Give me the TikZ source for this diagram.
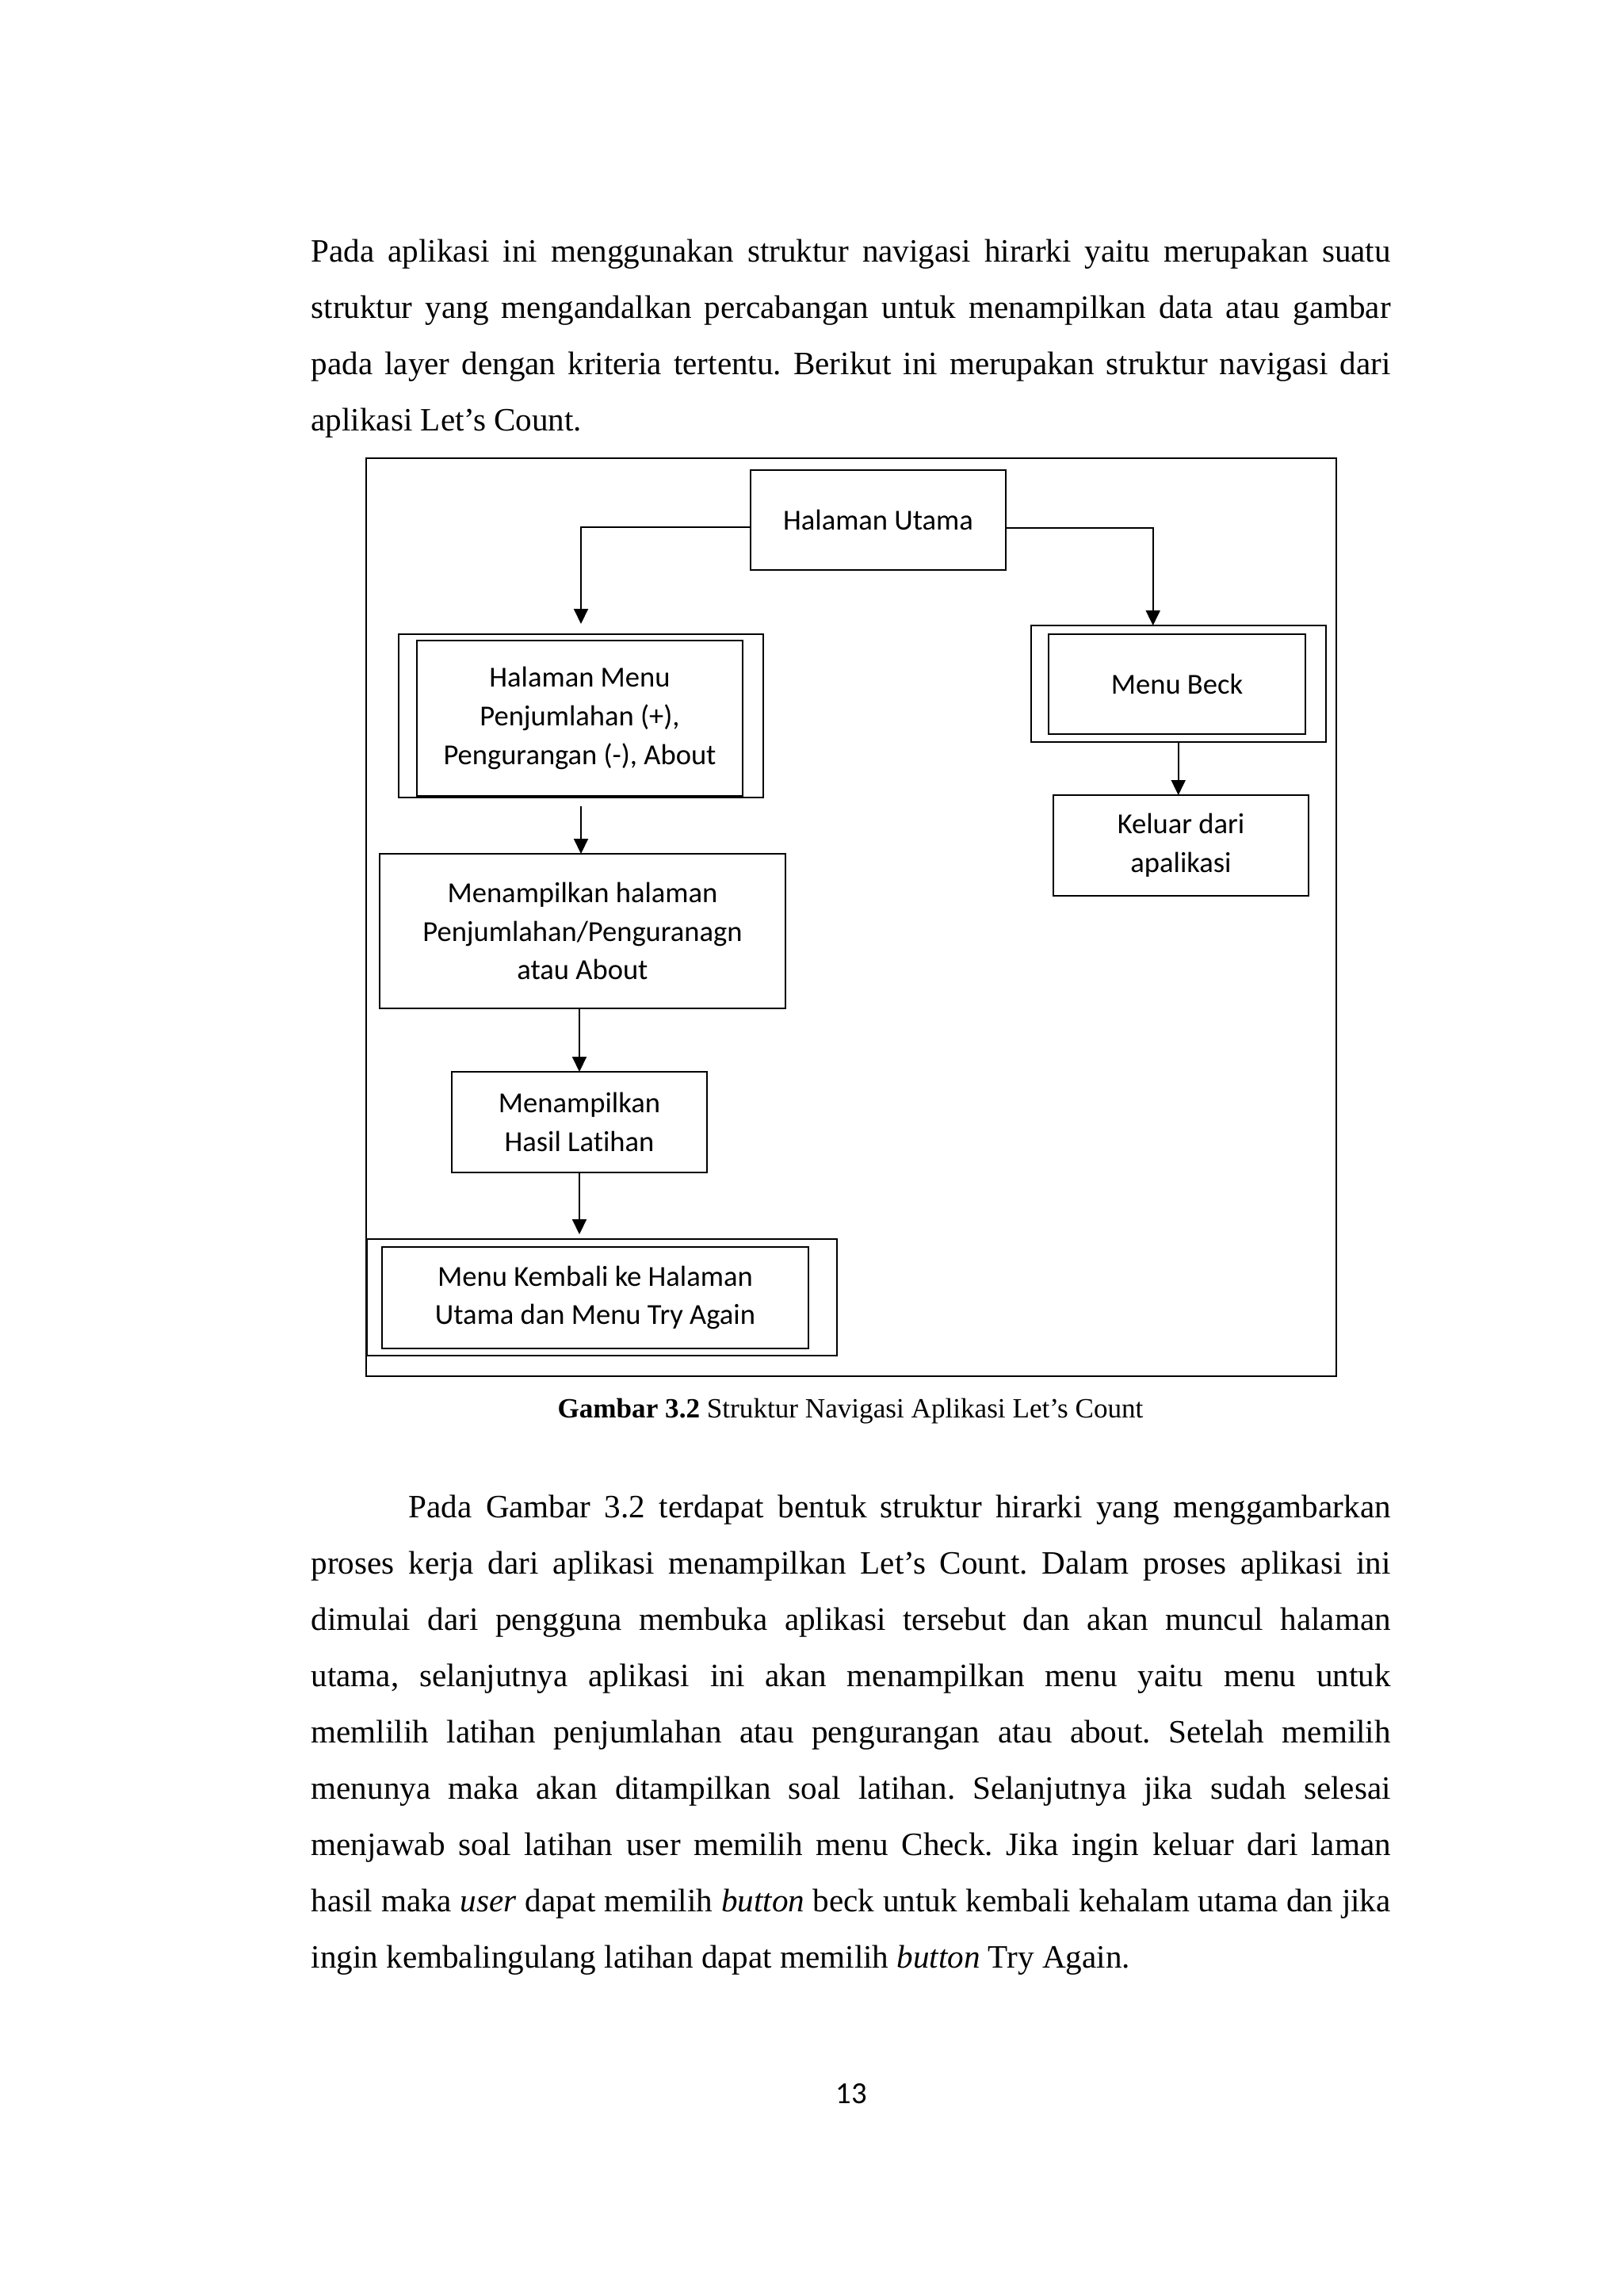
\documentclass[tikz,border=0pt]{standalone}
\usepackage{fontspec}
\setmainfont{Liberation Serif}
\newfontfamily\calibri[Ligatures=NoCommon]{Carlito}
\usetikzlibrary{arrows.meta}
\newcommand\diagfont{\calibri\fontsize{10.4}{13.9}\selectfont}
\newcommand\bodytxt{\fontsize{11.7}{14}\selectfont\frenchspacing}
\tikzset{
  box/.style={draw, line width=0.55pt, inner sep=0pt, outer sep=0pt, align=center, font=\diagfont},
  arr/.style={line width=0.55pt, -{Triangle[length=0.19cm,width=0.18cm]}},
  bodyline/.style={anchor=base west, inner sep=0pt, font=\bodytxt},
}
\begin{document}
\frenchspacing
\begin{tikzpicture}
\fill[white] (0,0) rectangle (20.48,-28.95);
\useasboundingbox (0,0) rectangle (20.48,-28.95);

% first paragraph
\node[bodyline] (p1a) at (3.92,-3.30) {\makebox[13.62cm][s]{Pada aplikasi ini menggunakan struktur navigasi hirarki yaitu merupakan suatu}};
\node[bodyline] (p1b) at (3.92,-4.01) {\makebox[13.62cm][s]{struktur yang mengandalkan percabangan untuk menampilkan data atau gambar}};
\node[bodyline] (p1c) at (3.92,-4.72) {\makebox[13.62cm][s]{pada layer dengan kriteria tertentu. Berikut ini merupakan struktur navigasi dari}};
\node[bodyline] (p1d) at (3.92,-5.43) {aplikasi Let’s Count.};

% diagram frame
\draw[line width=0.55pt] (4.62,-5.78) rectangle (16.86,-17.36);

\node[box, minimum width=3.225cm, minimum height=1.26cm] (utama) at (11.08,-6.56) {Halaman Utama};

\node[box, minimum width=4.60cm, minimum height=2.06cm] (hmOuter) at (7.33,-9.03) {};
\node[box, minimum width=4.11cm, minimum height=1.96cm] (hmInner) at (7.315,-9.06) {Halaman Menu\\Penjumlahan (+),\\Pengurangan (-), About};

\node[box, minimum width=3.72cm, minimum height=1.47cm] (beckOuter) at (14.867,-8.625) {};
\node[box, minimum width=3.24cm, minimum height=1.26cm] (beckInner) at (14.85,-8.63) {Menu Beck};

\node[box, minimum width=3.227cm, minimum height=1.27cm] (keluar) at (14.90,-10.665) {Keluar dari\\apalikasi};

\node[box, minimum width=5.12cm, minimum height=1.95cm] (tampil) at (7.35,-11.745) {Menampilkan halaman\\Penjumlahan/Penguranagn\\atau About};

\node[box, minimum width=3.228cm, minimum height=1.27cm] (hasil) at (7.31,-14.155) {Menampilkan\\Hasil Latihan};

\node[box, minimum width=5.93cm, minimum height=1.47cm] (kOuter) at (7.595,-16.365) {};
\node[box, minimum width=5.38cm, minimum height=1.277cm] (kInner) at (7.51,-16.37) {Menu Kembali ke Halaman\\Utama dan Menu Try Again};

% connectors
\draw[arr, shorten >=0.13cm] ([yshift=-0.09cm]utama.west) -| (hmOuter.north);
\draw[arr] ([yshift=-0.10cm]utama.east) -| ([xshift=-0.32cm]beckOuter.north);
\draw[arr] (beckOuter.south) -- (beckOuter.south |- keluar.north);
\draw[arr, shorten <=0.11cm] (hmOuter.south) -- (hmOuter.south |- tampil.north);
\draw[arr] (hasil.north |- tampil.south) -- (hasil.north);
\draw[arr, shorten >=0.06cm] (hasil.south) -- (hasil.south |- kOuter.north);

% caption
\node[anchor=base, inner sep=0pt, font=\fontsize{10}{12}\selectfont] (caption) at (10.73,-17.88) {\textbf{Gambar 3.2} Struktur Navigasi Aplikasi Let’s Count};

% second paragraph
\node[bodyline] (p2a) at (5.15,-19.14) {\makebox[12.39cm][s]{Pada Gambar 3.2 terdapat bentuk struktur hirarki yang menggambarkan}};
\node[bodyline] (p2b) at (3.92,-19.85) {\makebox[13.62cm][s]{proses kerja dari aplikasi menampilkan Let’s Count. Dalam proses aplikasi ini}};
\node[bodyline] (p2c) at (3.92,-20.56) {\makebox[13.62cm][s]{dimulai dari pengguna membuka aplikasi tersebut dan akan muncul halaman}};
\node[bodyline] (p2d) at (3.92,-21.27) {\makebox[13.62cm][s]{utama, selanjutnya aplikasi ini akan menampilkan menu yaitu menu untuk}};
\node[bodyline] (p2e) at (3.92,-21.98) {\makebox[13.62cm][s]{memlilih latihan penjumlahan atau pengurangan atau about. Setelah memilih}};
\node[bodyline] (p2f) at (3.92,-22.69) {\makebox[13.62cm][s]{menunya maka akan ditampilkan soal latihan. Selanjutnya jika sudah selesai}};
\node[bodyline] (p2g) at (3.92,-23.40) {\makebox[13.62cm][s]{menjawab soal latihan user memilih menu Check. Jika ingin keluar dari laman}};
\node[bodyline] (p2h) at (3.92,-24.11) {\makebox[13.62cm][s]{hasil maka \textit{user} dapat memilih \textit{button} beck untuk kembali kehalam utama dan jika}};
\node[bodyline] (p2i) at (3.92,-24.82) {ingin kembalingulang latihan dapat memilih \textit{button} Try Again.};

% page number
\node[anchor=base, inner sep=0pt, font=\calibri\fontsize{11}{13}\selectfont] (pagenum) at (10.74,-26.53) {13};
\end{tikzpicture}
\end{document}
